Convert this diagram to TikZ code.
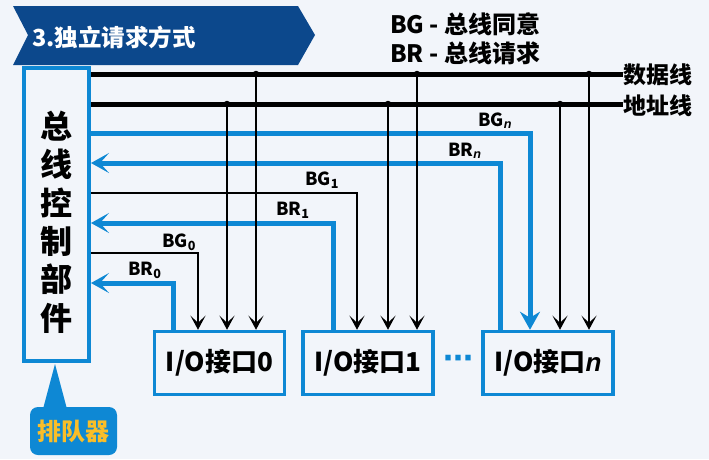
\documentclass[tikz,border=0pt]{standalone}
\usepackage{fontspec}
\setmainfont{Noto Sans CJK SC}
\newfontfamily\nfont{Liberation Sans}
\newfontfamily\dvfont{DejaVu Sans}
\usetikzlibrary{arrows.meta}
\definecolor{line_blue}{RGB}{14, 136, 212}
\definecolor{title_blue}{RGB}{12, 72, 140}
\definecolor{paper}{RGB}{242, 245, 250}
\definecolor{queue_yellow}{RGB}{250, 190, 40}
\tikzstyle{bus}=[line width=5pt,black]
\tikzstyle{sig}=[line width=1.8pt,black,-{Stealth[length=14pt,width=15pt,inset=7pt]}]
\tikzstyle{bsig}=[line width=5pt,line_blue]
\tikzstyle{dot}=[circle,fill=black,inner sep=0pt,minimum size=6.5pt]
\tikzstyle{iobox}=[draw=line_blue,line width=3.5pt,minimum width=130pt,
  minimum height=63pt,inner sep=0pt,font=\bfseries\fontsize{26}{26}\selectfont]
\tikzstyle{lbl}=[anchor=base west,inner sep=0pt,font=\bfseries\fontsize{18}{18}\selectfont]
\tikzstyle{big}=[inner sep=0pt,font=\bfseries\fontsize{24}{24}\selectfont]

\begin{document}
\begin{tikzpicture}[x=1pt,y=-1pt]
        \useasboundingbox (0,0) rectangle (709,459);
        \fill[paper] (0,0) rectangle (709,459);
        % title
        \fill[title_blue] (13,6) -- (298,6) -- (315,35) -- (298,65) -- (13,65) -- (28,35) -- cycle;
        \node[big,anchor=west,white,font=\bfseries\fontsize{23.5}{23.5}\selectfont] (title) at (32,37) {3.独立请求方式};
        \node[big,anchor=base west] (keybg) at (390,33) {BG - 总线同意};
        \node[big,anchor=base west] (keybr) at (390,62) {BR - 总线请求};
        % controller
        \node[draw=line_blue,line width=3.5pt,minimum width=65pt,minimum height=293pt] (ctrl) at (56.5,214.5) {};
        \node[align=center,inner sep=0pt,font=\bfseries\fontsize{32}{38.4}\selectfont] (ctrltext) at (56,222)
          {总\\线\\控\\制\\部\\件};
        \fill[line_blue] (55,364) -- (43,409) -- (67,409) -- cycle;
        \node[fill=line_blue,rounded corners=8pt,minimum width=87pt,minimum height=48pt,
          text=queue_yellow,font=\bfseries\fontsize{24}{24}\selectfont] (queue) at (73.5,431) {排队器};
        % interfaces
        \node[iobox] (io0) at (219.5,363) {I/O接口0};
        \node[iobox] (io1) at (368,363) {I/O接口1};
        \node[iobox] (ion) at (548,363) {I/O接口{\nfont\itshape n}};
        \node[line_blue,inner sep=0pt,font=\bfseries\fontsize{30}{30}\selectfont\dvfont] (more) at (458,362) {⋯};
        % buses
        \coordinate (dbus) at (91,74);
        \coordinate (abus) at (91,104);
        \node[big,anchor=west,font=\bfseries\fontsize{23}{23}\selectfont] (dlbl) at (623,75) {数据线};
        \node[big,anchor=west,font=\bfseries\fontsize{23}{23}\selectfont] (albl) at (623,106) {地址线};
        \draw[bus] (dbus) -- (dlbl.west |- dbus);
        \draw[bus] (abus) -- (albl.west |- abus);
        % request and grant lines
        \coordinate (bgn) at (91,133);
        \coordinate (brn) at (91,163);
        \coordinate (bg1) at (91,193);
        \coordinate (br1) at (91,223);
        \coordinate (bg0) at (91,253);
        \coordinate (br0) at (91,283);
        \draw[bsig,-{Stealth[length=18pt,width=20pt,inset=6pt]}] (bgn) -| (530,0 |- ion.north);
        \draw[bsig,{Stealth[length=18pt,width=20pt,inset=9pt]}-] (brn) -| (500,0 |- ion.north);
        \draw[bsig,{Stealth[length=18pt,width=20pt,inset=9pt]}-] (br1) -| (333,0 |- io1.north);
        \draw[bsig,{Stealth[length=18pt,width=20pt,inset=9pt]}-] (br0) -| (173,0 |- io0.north);
        \draw[sig] (bg1) -| (357,0 |- io1.north);
        \draw[sig] (bg0) -| (198,0 |- io0.north);
        \node[dot] (d0) at (256,74) {};
        \node[dot] (a0) at (227,104) {};
        \node[dot] (d1) at (417,74) {};
        \node[dot] (a1) at (388,104) {};
        \node[dot] (dn) at (589,74) {};
        \node[dot] (an) at (560,104) {};
        \draw[sig] (d0) -- (d0 |- io0.north);
        \draw[sig] (a0) -- (a0 |- io0.north);
        \draw[sig] (d1) -- (d1 |- io1.north);
        \draw[sig] (a1) -- (a1 |- io1.north);
        \draw[sig] (dn) -- (dn |- ion.north);
        \draw[sig] (an) -- (an |- ion.north);
        \node[lbl] (lbgn) at (478,126) {BG\textsubscript{\nfont\itshape n}};
        \node[lbl] (lbrn) at (448,156) {BR\textsubscript{\nfont\itshape n}};
        \node[lbl] (lbg1) at (305,185) {BG\textsubscript{1}};
        \node[lbl] (lbr1) at (276,215) {BR\textsubscript{1}};
        \node[lbl] (lbg0) at (162,247) {BG\textsubscript{0}};
        \node[lbl] (lbr0) at (128,275) {BR\textsubscript{0}};
    \end{tikzpicture}
\end{document}
